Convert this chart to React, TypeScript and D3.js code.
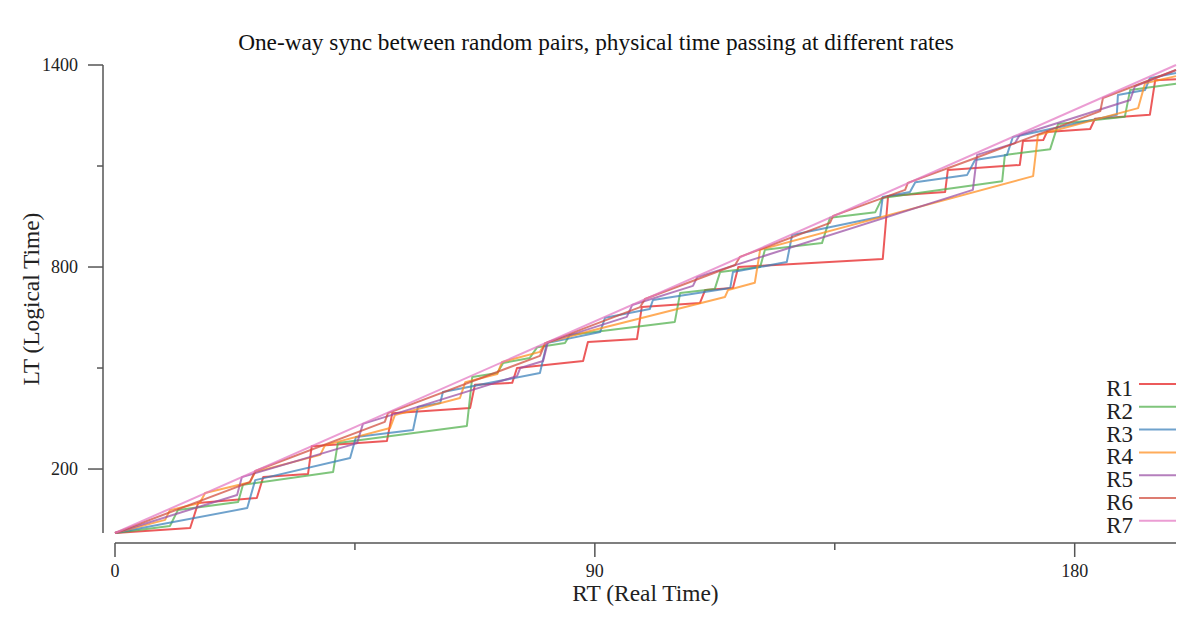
import React from "react";
import * as d3 from "d3";

type P = [number, number];

const seriesNames = ["R1", "R2", "R3", "R4", "R5", "R6", "R7"];
const seriesColors = ["#e41a1c", "#4daf4a", "#377eb8", "#ff8c1a", "#984ea3", "#d0493a", "#e377c2"];

const r1: P[] = [[0,10],[14.1,25],[15.6,99],[26.6,114],[27.8,176],[36.2,185],[36.9,268],[51.0,283],[52.0,366],[66.6,381],[67.5,450],[74.5,456],[75.4,500],[87.8,521],[88.7,577],[97.9,586],[98.8,681],[109.7,693],[110.7,732],[115.9,738],[116.9,800],[144.0,824],[145.0,1011],[155.7,1023],[156.2,1088],[169.7,1103],[170.3,1174],[174.1,1177],[174.8,1201],[182.9,1210],[183.8,1240],[194.1,1252],[195.1,1355],[199,1358]];
const r2: P[] = [[0,10],[10.3,31],[11.8,78],[23.1,102],[24.0,153],[40.9,191],[41.8,277],[66.0,328],[67.0,473],[71.7,485],[72.8,515],[77.8,530],[79.2,562],[84.4,574],[85.3,598],[105.0,637],[106.0,723],[112.5,735],[113.5,785],[121.0,800],[121.9,851],[132.6,871],[134.1,946],[142.6,963],[143.9,1005],[166.4,1055],[166.9,1133],[175.4,1150],[176.9,1225],[189.4,1246],[190.4,1326],[199,1344]];
const r3: P[] = [[0,10],[24.8,84],[26.3,167],[44.1,233],[45.2,295],[55.9,316],[56.8,384],[61.0,396],[61.5,429],[79.7,485],[81.0,574],[91.0,607],[91.9,649],[100.3,675],[100.9,702],[115.4,738],[115.9,785],[126.0,815],[127.0,895],[143.5,949],[144.0,1008],[149.1,1023],[150.1,1052],[159.8,1073],[161.3,1118],[167.3,1133],[168.4,1186],[187.9,1252],[188.1,1311],[193.2,1326],[194.1,1361],[199,1376]];
const r4: P[] = [[0,10],[9.4,49],[10.3,78],[15.9,99],[16.9,129],[25.3,161],[26.3,191],[38.5,242],[39.4,271],[51.6,322],[52.5,360],[64.7,411],[65.7,458],[71.7,482],[72.6,518],[79.7,548],[80.7,574],[89.1,610],[114.4,711],[115.0,732],[120.0,753],[121.0,851],[172.2,1070],[173.1,1192],[191.9,1272],[193.2,1346],[199,1367]];
const r5: P[] = [[0,10],[22.9,123],[23.8,176],[45.4,277],[46.5,334],[75.4,476],[76.0,500],[80.3,521],[81.2,577],[96.0,652],[97.0,687],[108.4,744],[109.2,770],[160.9,1029],[161.7,1133],[168.8,1168],[169.7,1192],[190.4,1296],[191.3,1337],[199,1385]];
const r6: P[] = [[0,10],[25.3,161],[26.3,194],[50.6,340],[51.2,366],[79.7,536],[80.7,574],[98.5,681],[99.4,705],[116.3,806],[117.2,830],[134.1,931],[134.7,952],[148.2,1029],[148.7,1050],[160.9,1121],[184.8,1263],[185.3,1302],[199,1385]];
const r7: P[] = [[0,10],[199,1400]];

const seriesData: P[][] = [r1, r2, r3, r4, r5, r6, r7];

const xTicks = [0, 45, 90, 135, 180];
const xTickLabels = ["0", "", "90", "", "180"];
const yTicks = [200, 500, 800, 1100, 1400];
const yTickLabels = ["200", "", "800", "", "1400"];

const titleText = "One-way sync between random pairs, physical time passing at different rates";
const xLabel = "RT (Real Time)";
const yLabel = "LT (Logical Time)";

export default function App() {
  const W = 1200, H = 632;
  const left = 115, right = 1176, top = 65, bottom = 533;
  const x = d3.scaleLinear().domain([0, 199]).range([left, right]);
  const y = d3.scaleLinear().domain([10, 1400]).range([bottom, top]);
  const line = d3.line<P>().x(d => x(d[0])).y(d => y(d[1]));
  const font = "'Liberation Serif', 'Times New Roman', serif";
  const axisColor = "#555";
  const yAxisX = left - 12;
  const xAxisY = bottom + 10;
  const legendX = 1176;
  const legendY0 = 384;
  const legendStep = 22.8;

  return (
    <svg width={W} height={H} style={{ position: "absolute", left: 0, top: 0, background: "#fff" }} fontFamily={font}>
      <rect x={0} y={0} width={W} height={H} fill="#fff" />
      <text x={596} y={50} textAnchor="middle" fontSize={23.3} fill="#111">{titleText}</text>

      {/* y axis */}
      <line x1={yAxisX} x2={yAxisX} y1={y(1400)} y2={bottom} stroke={axisColor} strokeWidth={1.5} />
      {yTicks.map((t, i) => (
        <g key={"yt" + t}>
          <line x1={yAxisX - (yTickLabels[i] ? 15 : 6)} x2={yAxisX} y1={y(t)} y2={y(t)} stroke={axisColor} strokeWidth={1.5} />
          {yTickLabels[i] && (
            <text x={yAxisX - 25} y={y(t)} dy="0.33em" textAnchor="end" fontSize={18} fill="#222">{yTickLabels[i]}</text>
          )}
        </g>
      ))}
      <text transform={`translate(39,${(top + bottom) / 2}) rotate(-90)`} textAnchor="middle" fontSize={23.4} fill="#222">{yLabel}</text>

      {/* x axis */}
      <line x1={left} x2={right} y1={xAxisY} y2={xAxisY} stroke={axisColor} strokeWidth={1.5} />
      {xTicks.map((t, i) => (
        <g key={"xt" + t}>
          <line x1={x(t)} x2={x(t)} y1={xAxisY} y2={xAxisY + (xTickLabels[i] ? 14 : 7)} stroke={axisColor} strokeWidth={1.5} />
          {xTickLabels[i] && (
            <text x={x(t)} y={xAxisY + 34} textAnchor="middle" fontSize={18} fill="#222">{xTickLabels[i]}</text>
          )}
        </g>
      ))}
      <text x={(left + right) / 2} y={601} textAnchor="middle" fontSize={23.4} fill="#222">{xLabel}</text>

      {/* series */}
      {seriesData.map((d, i) => (
        <path key={seriesNames[i]} d={line(d) || ""} fill="none" stroke={seriesColors[i]} strokeOpacity={0.72} strokeWidth={2} strokeLinejoin="round" />
      ))}

      {/* legend */}
      {seriesNames.map((n, i) => (
        <g key={"lg" + n}>
          <line x1={legendX - 37} x2={legendX} y1={legendY0 + i * legendStep} y2={legendY0 + i * legendStep} stroke={seriesColors[i]} strokeOpacity={0.72} strokeWidth={2} />
          <text x={legendX - 43} y={legendY0 + i * legendStep + 4} dy="0.35em" textAnchor="end" fontSize={23} fill="#222">{n}</text>
        </g>
      ))}
    </svg>
  );
}
